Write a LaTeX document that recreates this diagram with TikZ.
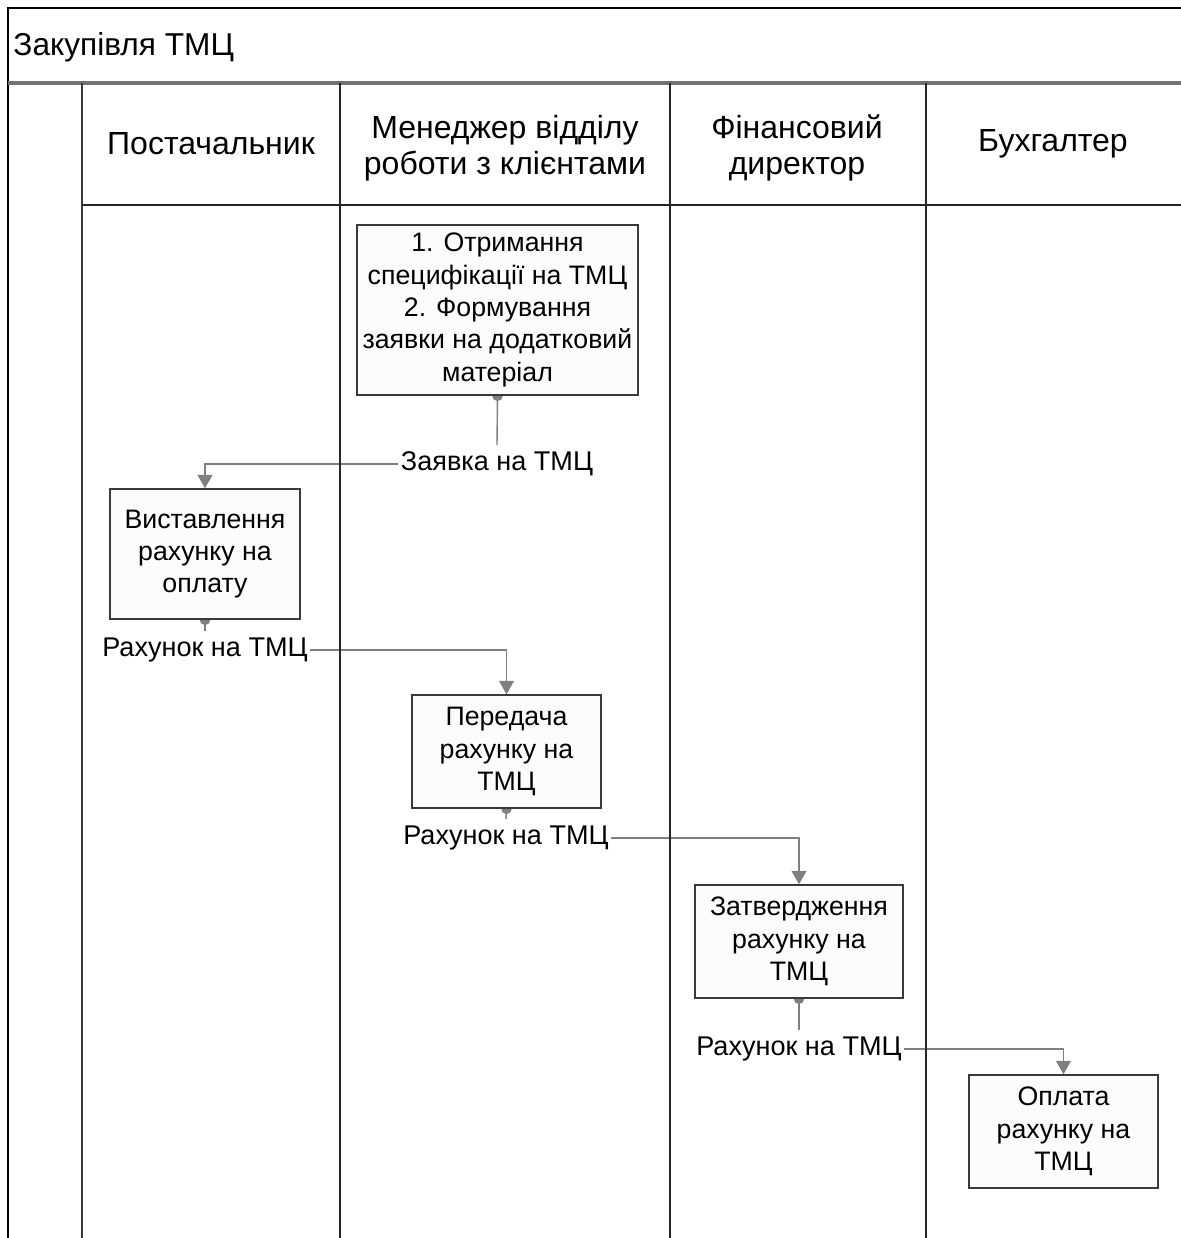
\documentclass[tikz,border=0pt]{standalone}
\usepackage{fontspec}
\setmainfont{Liberation Sans}
\usetikzlibrary{arrows.meta,backgrounds}
\definecolor{linkgray}{HTML}{7F7F7F}
\definecolor{edgegray}{HTML}{3A3A3A}
\tikzstyle{lane}=[
        draw=black!85,
        line width=0.4pt
]
\tikzstyle{task}=[
        draw=edgegray,
        fill=black!1,
        align=center,
        inner sep=0pt,
        font=\fontsize{7.6}{9.2}\selectfont
]
\tikzstyle{doc}=[
        inner xsep=0.6pt,
        inner ysep=1.7pt,
        font=\fontsize{7.7}{9.4}\selectfont
]
\tikzstyle{head}=[
        align=center,
        font=\fontsize{9.1}{10.4}\selectfont
]
\tikzstyle{stub}=[
        draw=linkgray,
        line width=0.4pt,
        shorten <=-1.5pt,
        {Circle[length=3pt]}-
]
\tikzstyle{flow}=[
        draw=linkgray,
        line width=0.4pt,
        -{Triangle[length=3.8pt,width=4.2pt]}
]

\begin{document}
\begin{tikzpicture}[x=0.01cm,y=-0.01cm]
                        \useasboundingbox (0,0) rectangle (1181,1238);
                        \clip (0,0) rectangle (1181,1238);

                        % pool and lanes
                        \draw[black, line width=0.6pt] (8,1240) -- (8,8) -- (1190,8);
                        \draw[black!55, line width=1pt] (8,83) -- (1190,83);
                        \draw[edgegray, line width=0.7pt] (82,83) -- (82,1240);
                        \draw[lane] (82,205) -- (1190,205);
                        \foreach \x in {340,670,926} {
                            \draw[lane] (\x,83) -- (\x,1240);
                        }

                        \node[anchor=base west, font=\fontsize{9}{10.4}\selectfont] (title) at (1,55) {Закупівля ТМЦ};

                        \node[head] (supplier) at (211,144) {Постачальник};
                        \node[head] (manager) at (505,148) {Менеджер відділу\\роботи з клієнтами};
                        \node[head] (director) at (797,148) {Фінансовий\\директор};
                        \node[head] (accountant) at (1053,144) {Бухгалтер};

                        % tasks
                        \node[task, minimum width=2.81cm, minimum height=1.70cm] (request) at (497.5,310) {1. Отримання\\специфікації на ТМЦ\\2. Формування\\заявки на додатковий\\матеріал};
                        \node[task, minimum width=1.90cm, minimum height=1.30cm] (invoice) at (205,554) {Виставлення\\рахунку на\\оплату};
                        \node[task, minimum width=1.89cm, minimum height=1.13cm] (handover) at (506.5,751.5) {Передача\\рахунку на\\ТМЦ};
                        \node[task, minimum width=2.08cm, minimum height=1.13cm] (approval) at (799,941.5) {Затвердження\\рахунку на\\ТМЦ};
                        \node[task, minimum width=1.89cm, minimum height=1.13cm] (payment) at (1063.5,1131.5) {Оплата\\рахунку на\\ТМЦ};

                        % documents
                        \node[doc] (order) at (497,464) {Заявка на ТМЦ};
                        \node[doc] (bill1) at (205,650) {Рахунок на ТМЦ};
                        \node[doc] (bill2) at (506,838) {Рахунок на ТМЦ};
                        \node[doc] (bill3) at (799,1049) {Рахунок на ТМЦ};

                        \begin{scope}[on background layer]
                            \draw[stub] (request.south) -- (order.north);
                            \draw[flow] (order.west) -| (invoice.north);

                            \draw[stub] (invoice.south) -- (bill1.north);
                            \draw[flow] (bill1.east) -| (handover.north);

                            \draw[stub] (handover.south) -- (bill2.north);
                            \draw[flow] (bill2.east) -| (approval.north);

                            \draw[stub] (approval.south) -- (bill3.north);
                            \draw[flow] (bill3.east) -| (payment.north);
                        \end{scope}
                    \end{tikzpicture}
\end{document}
